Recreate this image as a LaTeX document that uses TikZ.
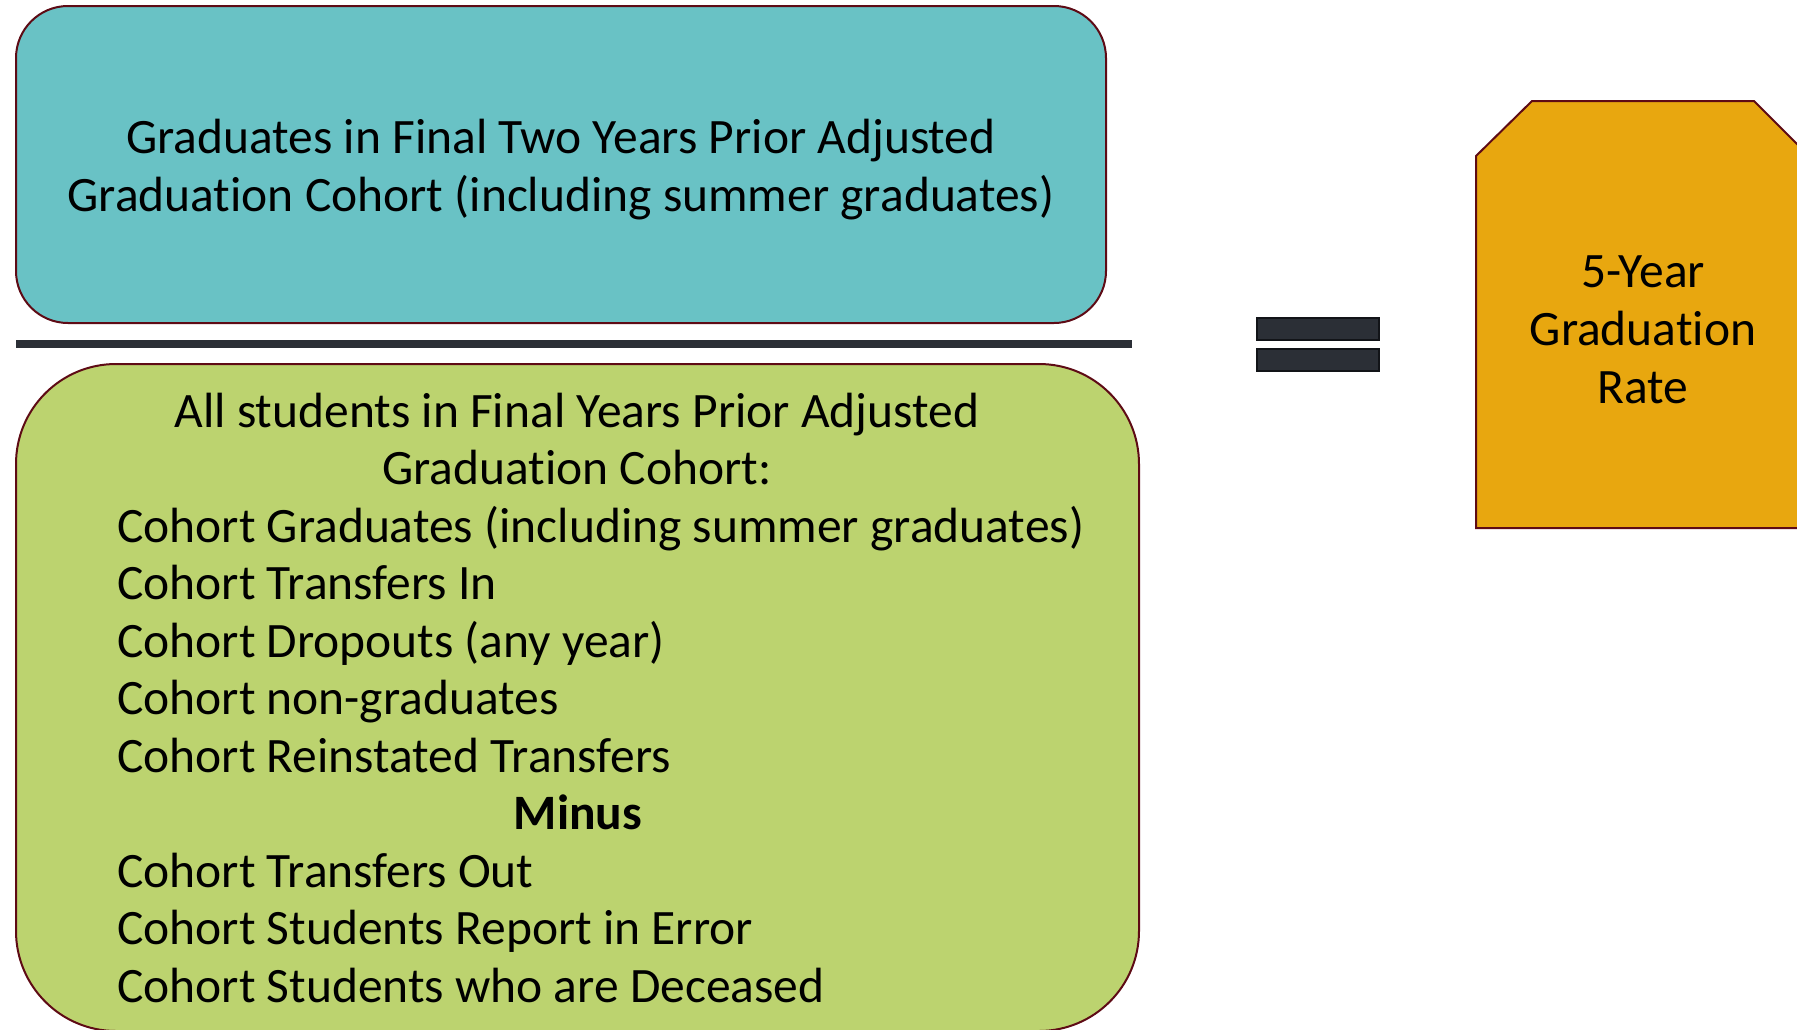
\documentclass[tikz,border=0pt]{standalone}
\usepackage{fontspec}
\setmainfont{Carlito}[RawFeature=-liga]
\definecolor{teal}{HTML}{69C2C5}
\definecolor{lgreen}{HTML}{BCD36F}
\definecolor{gold}{HTML}{E8A70F}
\definecolor{maroon}{HTML}{5E0B15}
\definecolor{slate}{HTML}{2B2F36}
\definecolor{slatedark}{HTML}{121418}
\begin{document}
\begin{tikzpicture}[x=1pt,y=-1pt,
  boxline/.style={draw=maroon,line width=2pt},
  txt/.style={inner sep=0pt,font=\fontsize{49.5}{57.5}\selectfont,text=black},
  txtl/.style={txt,anchor=base west},
  txtc/.style={txt,anchor=base},
  eqbar/.style={fill=slate,draw=slatedark,line width=2pt}]
\useasboundingbox (0,0) rectangle (1797,1029);
\clip (0,0) rectangle (1797,1029);
% top box
\draw[boxline,fill=teal,rounded corners=52pt] (16,6) rectangle (1106,323);
% division line
\coordinate (d1) at (16,344);
\coordinate (d2) at (1132,344);
\draw[slate,line width=8pt] (d1) -- (d2);
% bottom box
\draw[boxline,fill=lgreen,rounded corners=100pt] (16,364) rectangle (1139,1031);
% equals
\draw[eqbar] (1257,318) rectangle (1379,340);
\draw[eqbar] (1257,349) rectangle (1379,371);
% result shape
\draw[boxline,fill=gold] (1476,156) -- (1532,101) -- (1754,101) -- (1809,156) -- (1809,528) -- (1476,528) -- cycle;
% top text
\node[txtc] (t1) at (561,153) {Graduates in Final Two Years Prior Adjusted};
\node[txtc] (t2) at (561,211) {Graduation Cohort (including summer graduates)};
% bottom text
\node[txtc] (b1) at (577,427) {All students in Final Years Prior Adjusted};
\node[txtc] (b2) at (577,484.5) {Graduation Cohort:};
\node[txtl] (b3) at (117,542) {Cohort Graduates (including summer graduates)};
\node[txtl] (b4) at (117,599.5) {Cohort Transfers In};
\node[txtl] (b5) at (117,657) {Cohort Dropouts (any year)};
\node[txtl] (b6) at (117,714.5) {Cohort non-graduates};
\node[txtl] (b7) at (117,772) {Cohort Reinstated Transfers};
\node[txtc,font=\fontsize{49.5}{57.5}\selectfont\bfseries] (b8) at (578,829.5) {Minus};
\node[txtl] (b9) at (117,887) {Cohort Transfers Out};
\node[txtl] (b10) at (117,944.5) {Cohort Students Report in Error};
\node[txtl] (b11) at (117,1002) {Cohort Students who are Deceased};
% result text
\node[txtc] (r1) at (1643,287) {5-Year};
\node[txtc] (r2) at (1643,345) {Graduation};
\node[txtc] (r3) at (1643,403) {Rate};
\end{tikzpicture}
\end{document}
